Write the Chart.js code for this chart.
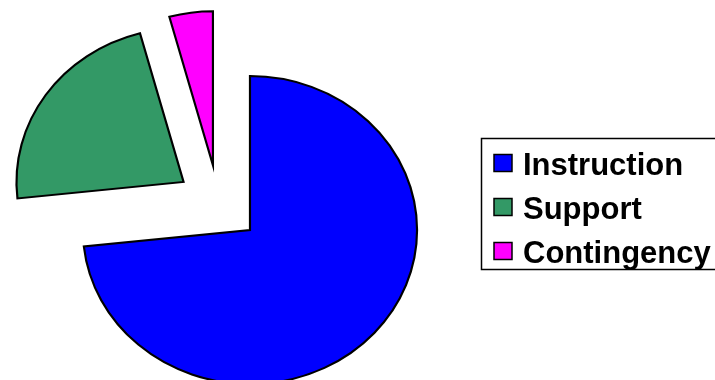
<!DOCTYPE html>
<html>
<head>
<meta charset="utf-8">
<script src="https://cdn.jsdelivr.net/npm/chart.js@4"></script>
<style>
    body { margin: 0; background: #fff; }
    #wrap { width: 715px; height: 380px; position: relative; }
</style>
</head>
<body>
<div id="wrap"><canvas id="budgetChart"></canvas></div>
<script>
const categories = ['Instruction', 'Support', 'Contingency'];
const shares = [73.3, 22.5, 4.2];
const sliceColors = ['#0000FF', '#339966', '#FF00FF'];

const EXPLODE = 39;      // distance each slice is pulled out
const X_STRETCH = 1.085; // the original pie is a little wider than tall

// pull each slice out along its middle angle
const explodePlugin = {
    id: 'explode',
    afterDatasetUpdate(chart, args) {
        args.meta.data.forEach(arc => {
            const mid = (arc.startAngle + arc.endAngle) / 2;
            arc.x += Math.cos(mid) * EXPLODE;
            arc.y += Math.sin(mid) * EXPLODE;
        });
    }
};

// stretch the pie horizontally around its centre
const stretchPlugin = {
    id: 'stretch',
    beforeDatasetsDraw(chart) {
        const ctx = chart.ctx;
        const cx = (chart.chartArea.left + chart.chartArea.right) / 2;
        ctx.save();
        ctx.translate(cx, 0);
        ctx.scale(X_STRETCH, 1);
        ctx.translate(-cx, 0);
    },
    afterDatasetsDraw(chart) {
        chart.ctx.restore();
    }
};

// boxed legend like the spreadsheet one, running off the right edge
const boxLegendPlugin = {
    id: 'boxLegend',
    afterDraw(chart) {
        const ctx = chart.ctx;
        const ds = chart.data.datasets[0];
        ctx.save();
        ctx.lineWidth = 1.5;
        ctx.strokeStyle = '#000';
        ctx.strokeRect(481.5, 138.5, 260, 131);

        ctx.font = 'bold 31px "Liberation Sans", Arial, sans-serif';
        ctx.textBaseline = 'alphabetic';
        chart.data.labels.forEach((label, i) => {
            const cy = 163 + i * 44;
            ctx.fillStyle = ds.backgroundColor[i];
            ctx.fillRect(494, cy - 8.5, 18, 17);
            ctx.lineWidth = 1.5;
            ctx.strokeRect(494, cy - 8.5, 18, 17);
            ctx.fillStyle = '#000';
            ctx.fillText(label, 523, cy + 12);
        });
        ctx.restore();
    }
};

new Chart(document.getElementById('budgetChart'), {
    type: 'pie',
    data: {
        labels: categories,
        datasets: [{
            data: shares,
            backgroundColor: sliceColors,
            borderColor: '#000',
            borderWidth: 2,
            borderJoinStyle: 'miter'
        }]
    },
    options: {
        responsive: true,
        maintainAspectRatio: false,
        animation: false,
        radius: 154,
        layout: { padding: { left: 0, right: 278, top: 28, bottom: 0 } },
        plugins: {
            legend: { display: false },
            tooltip: { enabled: false }
        }
    },
    plugins: [explodePlugin, stretchPlugin, boxLegendPlugin]
});
</script>
</body>
</html>
